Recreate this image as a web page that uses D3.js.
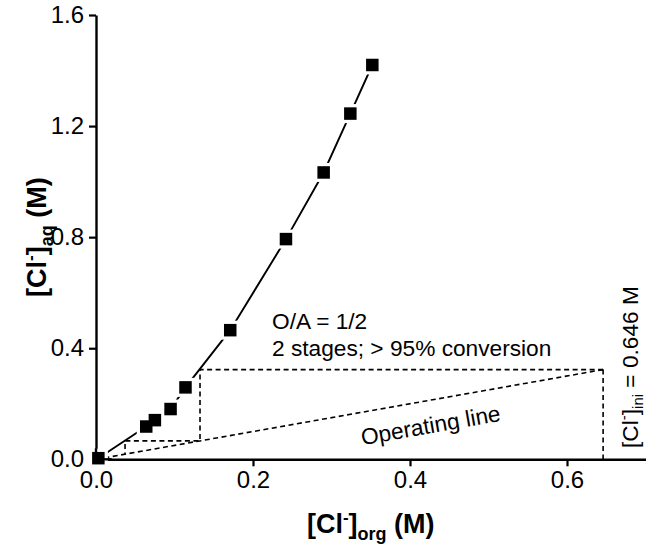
<!DOCTYPE html>
<html>
<head>
<meta charset="utf-8">
<script src="https://cdn.jsdelivr.net/npm/d3@7"></script>
<style>
  html, body { margin: 0; padding: 0; background: #fff; }
  svg { display: block; font-family: "Liberation Sans", Arial, sans-serif; }
</style>
</head>
<body>
<svg id="chart" width="646" height="558"></svg>
<script>
// Equilibrium data
const orgConc = [0.003, 0.064, 0.075, 0.095, 0.114, 0.171, 0.242, 0.290, 0.324, 0.352];
const aqConc  = [0.004, 0.118, 0.141, 0.181, 0.259, 0.465, 0.793, 1.033, 1.245, 1.420];

// Operating line (O/A = 1/2), from origin to initial concentration
const opOrg = [0.0, 0.646];
const opAq  = [0.0, 0.323];

// McCabe-Thiele stage steps
const stepOrg = [0.646, 0.1325, 0.1325, 0.037, 0.037];
const stepAq  = [0.323, 0.323, 0.0663, 0.0663, 0.0185];

// Initial concentration drop line
const iniOrg = [0.646, 0.646];
const iniAq  = [0.323, 0.0];

const xTicks = [0.0, 0.2, 0.4, 0.6];
const yTicks = [0.0, 0.4, 0.8, 1.2, 1.6];

const svg = d3.select("#chart");
const x = d3.scaleLinear().domain([0, 0.7]).range([96, 645.5]);
const y = d3.scaleLinear().domain([0, 1.6]).range([459.3, 15]);

const tickFont = 24;

// Axes
const xAxis = d3.axisBottom(x).tickValues(xTicks).tickFormat(d3.format(".1f"))
  .tickSizeOuter(0).tickSizeInner(7).tickPadding(5);
const yAxis = d3.axisLeft(y).tickValues(yTicks).tickFormat(d3.format(".1f"))
  .tickSizeOuter(0).tickSizeInner(7).tickPadding(5);

const gx = svg.append("g").attr("transform", `translate(0,${y(0)})`).call(xAxis);
const gy = svg.append("g").attr("transform", `translate(${x(0)},0)`).call(yAxis);
[gx, gy].forEach(g => {
  g.select(".domain").attr("stroke", "#000").attr("stroke-width", 2.4);
  g.selectAll(".tick line").attr("stroke", "#000").attr("stroke-width", 2.2);
  g.selectAll(".tick text").attr("fill", "#000")
    .style("font-size", tickFont + "px")
    .style("font-family", '"Liberation Sans", Arial, sans-serif');
});

const plot = svg.append("g");

// Dashed lines
const dashed = "5,3.5";
const line = d3.line().x(d => x(d[0])).y(d => y(d[1]));
plot.append("path")
  .datum(opOrg.map((v, i) => [v, opAq[i]]))
  .attr("d", line).attr("fill", "none").attr("stroke", "#000")
  .attr("stroke-width", 1.6).attr("stroke-dasharray", dashed);
plot.append("path")
  .datum(stepOrg.map((v, i) => [v, stepAq[i]]))
  .attr("d", line).attr("fill", "none").attr("stroke", "#000")
  .attr("stroke-width", 1.6).attr("stroke-dasharray", dashed);
plot.append("path")
  .datum(iniOrg.map((v, i) => [v, iniAq[i]]))
  .attr("d", line).attr("fill", "none").attr("stroke", "#000")
  .attr("stroke-width", 1.6).attr("stroke-dasharray", dashed);

// Equilibrium line
const eq = orgConc.map((v, i) => [v, aqConc[i]]);
plot.append("path").datum(eq).attr("d", line)
  .attr("fill", "none").attr("stroke", "#000").attr("stroke-width", 1.9);

// Markers with white halo
const sq = 12.5, halo = 19;
plot.selectAll("rect.halo").data(eq).enter().append("rect")
  .attr("class", "halo")
  .attr("x", d => x(d[0]) - halo / 2).attr("y", d => y(d[1]) - halo / 2)
  .attr("width", halo).attr("height", halo).attr("fill", "#fff");
// restore axis under origin halo
svg.append("line").attr("x1", x(0)).attr("x2", x(0.02)).attr("y1", y(0)).attr("y2", y(0))
  .attr("stroke", "#000").attr("stroke-width", 2.4);
svg.append("line").attr("x1", x(0)).attr("x2", x(0)).attr("y1", y(0)).attr("y2", y(0.04))
  .attr("stroke", "#000").attr("stroke-width", 2.4);
svg.append("g").selectAll("rect.pt").data(eq).enter().append("rect")
  .attr("class", "pt")
  .attr("x", d => x(d[0]) - sq / 2).attr("y", d => y(d[1]) - sq / 2)
  .attr("width", sq).attr("height", sq).attr("fill", "#000");

// Annotations
const annFont = 22.7;
svg.append("text").attr("x", 272).attr("y", 329)
  .style("font-size", annFont + "px").text("O/A = 1/2");
svg.append("text").attr("x", 272).attr("y", 356)
  .style("font-size", annFont + "px").text("2 stages; > 95% conversion");

const angle = -Math.atan((y(0) - y(0.5)) / (x(1) - x(0))) * 180 / Math.PI;
svg.append("text").attr("transform", `translate(432,433) rotate(${angle})`)
  .attr("text-anchor", "middle").style("font-size", annFont + "px").text("Operating line");

// Right vertical label
const rt = svg.append("text").attr("transform", "translate(638,448) rotate(-90)")
  .style("font-size", annFont + "px");
rt.append("tspan").text("[Cl");
rt.append("tspan").attr("dy", -9).style("font-size", "15px").text("-");
rt.append("tspan").attr("dy", 9).text("]");
rt.append("tspan").attr("dy", 5).style("font-size", "15px").text("ini");
rt.append("tspan").attr("dy", -5).text(" = 0.646 M");

// Axis titles
const titleFont = 27;
const xt = svg.append("text").attr("x", x(0.35)).attr("y", 533)
  .attr("text-anchor", "middle").style("font-size", titleFont + "px").style("font-weight", "bold");
xt.append("tspan").text("[Cl");
xt.append("tspan").attr("dy", -10).style("font-size", "17px").text("-");
xt.append("tspan").attr("dy", 10).text("]");
xt.append("tspan").attr("dy", 7).style("font-size", "18px").text("org");
xt.append("tspan").attr("dy", -7).text(" (M)");

const yt = svg.append("text").attr("transform", `translate(46,${y(0.8)}) rotate(-90)`)
  .attr("text-anchor", "middle").style("font-size", titleFont + "px").style("font-weight", "bold");
yt.append("tspan").text("[Cl");
yt.append("tspan").attr("dy", -10).style("font-size", "17px").text("-");
yt.append("tspan").attr("dy", 10).text("]");
yt.append("tspan").attr("dy", 7).style("font-size", "18px").text("aq");
yt.append("tspan").attr("dy", -7).text(" (M)");
</script>
</body>
</html>
